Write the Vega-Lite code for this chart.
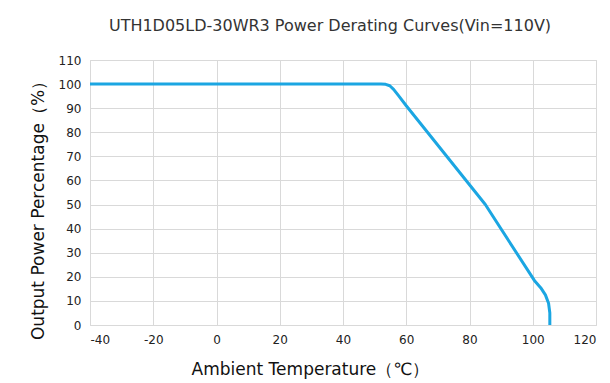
{
  "$schema": "https://vega.github.io/schema/vega-lite/v6.json",
  "autosize": "none",
  "width": 506,
  "height": 265,
  "padding": {"left": 90, "top": 60, "right": 14, "bottom": 58},
  "background": "white",
  "title": {
    "text": "UTH1D05LD-30WR3 Power Derating Curves(Vin=110V)",
    "font": "DejaVu Sans",
    "fontSize": 16,
    "fontWeight": "normal",
    "color": "#333333",
    "anchor": "middle",
    "dx": -13,
    "offset": 20
  },
  "data": {
    "values": [
      {"t": -40, "p": 100},
      {"t": 52, "p": 100},
      {"t": 53.5, "p": 99.9},
      {"t": 54.8, "p": 99.3},
      {"t": 56, "p": 97.8},
      {"t": 57.5, "p": 95.3},
      {"t": 60, "p": 91},
      {"t": 85, "p": 50},
      {"t": 100.5, "p": 18.5},
      {"t": 102.5, "p": 15.5},
      {"t": 104, "p": 12.5},
      {"t": 105, "p": 9},
      {"t": 105.4, "p": 5},
      {"t": 105.4, "p": 0}
    ]
  },
  "mark": {"type": "line", "color": "#1ba6e2", "strokeWidth": 3, "strokeCap": "butt", "strokeJoin": "round"},
  "encoding": {
    "x": {
      "field": "t",
      "type": "quantitative",
      "scale": {"domain": [-40, 120], "nice": false},
      "axis": {
        "values": [-40, -20, 0, 20, 40, 60, 80, 100, 120],
        "labelExpr": "datum.value + ''",
        "title": "Ambient Temperature（℃）",
        "titleFont": "DejaVu Sans",
        "titleFontSize": 17,
        "titleFontWeight": "normal",
        "titleColor": "#111111",
        "titleX": 220,
        "titleY": 44,
        "titleAlign": "center",
        "titleBaseline": "middle",
        "labelFont": "DejaVu Sans",
        "labelFontSize": 12,
        "labelColor": "#222222",
        "labelPadding": 9,
        "ticks": false,
        "domain": false,
        "grid": true,
        "gridColor": "#d9d9d9",
        "gridWidth": 1
      }
    },
    "y": {
      "field": "p",
      "type": "quantitative",
      "scale": {"domain": [0, 110], "nice": false},
      "axis": {
        "values": [0, 10, 20, 30, 40, 50, 60, 70, 80, 90, 100, 110],
        "title": "Output Power Percentage（%）",
        "titleFont": "DejaVu Sans",
        "titleFontSize": 17,
        "titleFontWeight": "normal",
        "titleColor": "#111111",
        "titleAngle": -90,
        "titleX": -52,
        "titleY": 146,
        "titleAlign": "center",
        "titleBaseline": "middle",
        "labelFont": "DejaVu Sans",
        "labelFontSize": 12,
        "labelColor": "#222222",
        "labelPadding": 9,
        "ticks": false,
        "domain": false,
        "grid": true,
        "gridColor": "#d9d9d9",
        "gridWidth": 1
      }
    }
  },
  "config": {
    "view": {"stroke": "#d9d9d9", "strokeWidth": 1}
  }
}
